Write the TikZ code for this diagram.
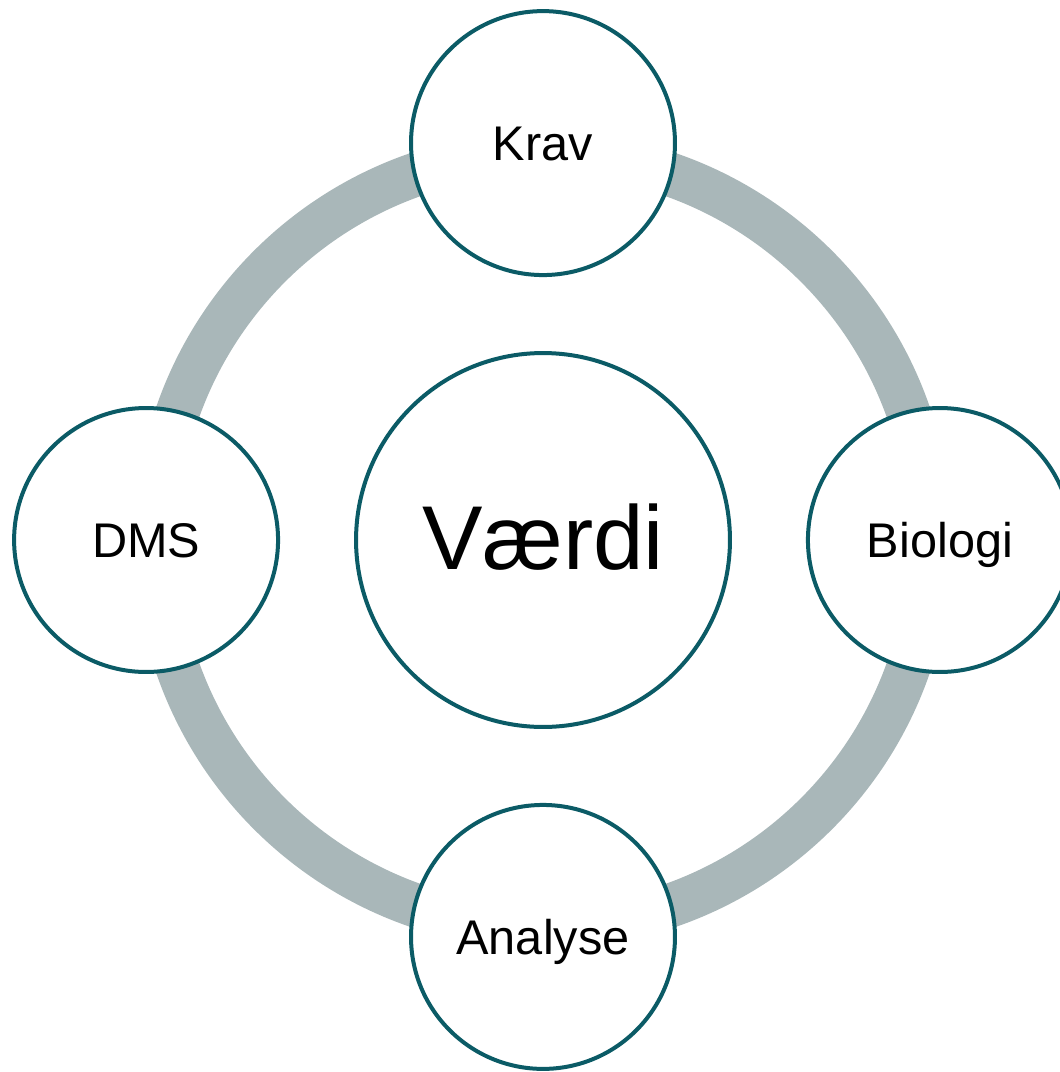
\documentclass[tikz,border=0pt]{standalone}
\usepackage{fontspec}
\setmainfont{Liberation Sans}
\usepackage{tikz}
\usepackage{xcolor}
\usetikzlibrary{positioning}

\definecolor{ringgray}{HTML}{A9B7B9}
\definecolor{petrol}{HTML}{0B5B66}

\begin{document}
\begin{tikzpicture}[
    x=0.02cm, y=-0.02cm,
    node distance=1.48cm,
    bubble/.style={circle, draw=petrol, line width=0.08cm, fill=white, inner sep=0pt,
        minimum size=5.28cm, text height=19.8pt, text depth=0pt,
        font=\fontsize{27.7}{33}\selectfont},
    core/.style={bubble, minimum size=7.48cm, text height=34pt,
        font=\fontsize{51.6}{60}\selectfont},
    ring/.style={draw=ringgray, line width=0.88cm}
]
\useasboundingbox (0,0) rectangle (1060,1072);

% Ring behind everything
\coordinate (mid) at (543,540);
\draw[ring] (mid) circle[radius=7.74cm];

% Centre
\node[core] (vaerdi) at (mid) {Værdi};

% Four stages round the ring
\node[bubble, above=of vaerdi] (krav) {Krav};
\node[bubble, right=of vaerdi] (biologi) {Biologi};
\node[bubble, below=of vaerdi] (analyse) {Analyse};
\node[bubble, left=of vaerdi] (dms) {DMS};
\end{tikzpicture}
\end{document}
